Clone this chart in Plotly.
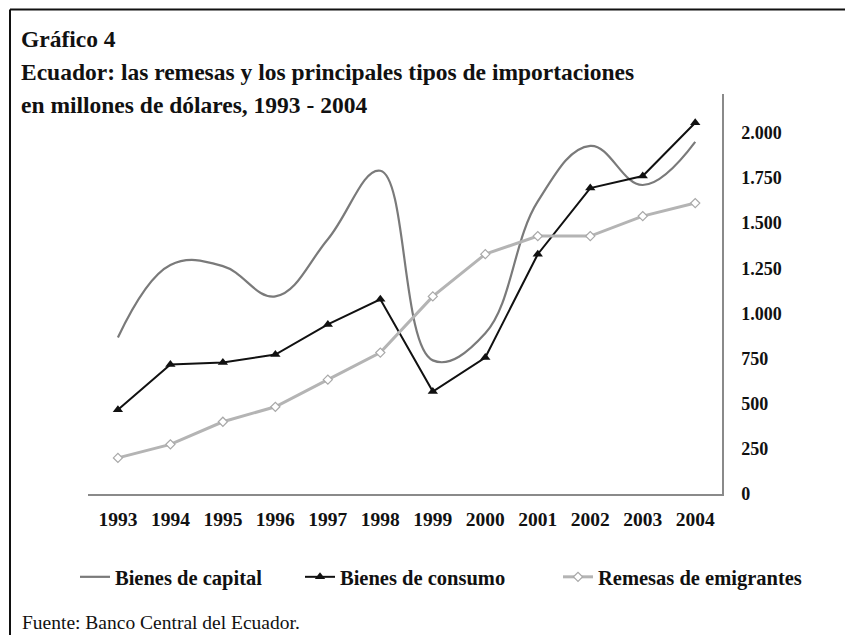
import plotly.graph_objects as go

# ---- data ----
years = [1993, 1994, 1995, 1996, 1997, 1998, 1999, 2000, 2001, 2002, 2003, 2004]
bienes_capital = [867, 1268, 1262, 1094, 1411, 1790, 740, 890, 1620, 1928, 1711, 1950]
bienes_consumo = [467, 717, 728, 772, 939, 1078, 567, 756, 1328, 1694, 1761, 2056]
remesas = [200, 275, 400, 483, 633, 783, 1094, 1328, 1428, 1428, 1539, 1611]
y_ticks = [0, 250, 500, 750, 1000, 1250, 1500, 1750, 2000]
series_names = ["Bienes de capital", "Bienes de consumo", "Remesas de emigrantes"]
title_lines = ["Gráfico 4",
               "Ecuador: las remesas y los principales tipos de importaciones",
               "en millones de dólares, 1993 - 2004"]
source_text = "Fuente: Banco Central del Ecuador."

# ---- layout geometry (pixels, in window coordinates) ----
W, H = 853, 643
OFF = 8            # default page body margin (all sides)
PL, PR, PT, PB = 88, 722, 94, 494
FW, FH = W - 2 * OFF, H - 2 * OFF   # figure size that fits without scrollbars


def px(x):
    return (x - PL) / (PR - PL)


def py(y):
    return (PB - y) / (PB - PT)


SERIF = "Liberation Serif"

fig = go.Figure()
fig.add_trace(go.Scatter(
    x=years, y=bienes_capital, name=series_names[0], mode="lines",
    line=dict(color="#7a7a7a", width=2.2, shape="spline", smoothing=1.15),
    legend="legend"))
fig.add_trace(go.Scatter(
    x=years, y=bienes_consumo, name=series_names[1], mode="lines+markers",
    line=dict(color="#111111", width=2),
    marker=dict(symbol="triangle-up", size=9, color="#111111"),
    legend="legend2"))
fig.add_trace(go.Scatter(
    x=years, y=remesas, name=series_names[2], mode="lines+markers",
    line=dict(color="#b4b4b4", width=3),
    marker=dict(symbol="diamond", size=7, color="white",
                line=dict(color="#a8a8a8", width=1.2)),
    legend="legend3"))

leg_common = dict(orientation="h", yanchor="middle", xanchor="left",
                  bgcolor="rgba(0,0,0,0)", borderwidth=0,
                  font=dict(family=SERIF, size=20.5, color="#111", weight="bold"))

annotations = []
for txt, yy in zip(title_lines, [39, 72, 105]):
    annotations.append(dict(text=txt, xref="paper", yref="paper",
                            x=px(19), y=py(yy), xanchor="left", yanchor="middle",
                            showarrow=False,
                            font=dict(family=SERIF, size=23.5, color="#111", weight="bold")))
annotations.append(dict(text=source_text, xref="paper", yref="paper",
                        x=px(20), y=py(622), xanchor="left", yanchor="middle",
                        showarrow=False,
                        font=dict(family=SERIF, size=19.5, color="#111")))

frame_line = dict(color="#111", width=2)
fig.update_layout(
    width=FW, height=FH,
    margin=dict(l=PL - OFF, r=W - OFF - PR, t=PT - OFF, b=H - OFF - PB),
    paper_bgcolor="white", plot_bgcolor="white",
    separators=",.",
    showlegend=True,
    legend=dict(x=px(75), y=py(577), **leg_common),
    legend2=dict(x=px(300), y=py(577), **leg_common),
    legend3=dict(x=px(558), y=py(577), **leg_common),
    annotations=annotations,
    shapes=[
        dict(type="line", xref="paper", yref="paper",
             x0=px(10), x1=px(W + 20), y0=py(9.5), y1=py(9.5), line=frame_line),
        dict(type="line", xref="paper", yref="paper",
             x0=px(10), x1=px(10), y0=py(9.5), y1=py(H + 20), line=frame_line),
    ],
)
fig.update_xaxes(
    range=[1992.43, 2004.51], tickmode="array", tickvals=years,
    ticktext=[str(y) for y in years], showgrid=False, zeroline=False,
    showline=True, linecolor="#8a8a8a", linewidth=1.5, ticks="",
    ticklabelstandoff=7,
    tickfont=dict(family=SERIF, size=19.5, color="#111", weight="bold"))
fig.update_yaxes(
    side="right", range=[0, 2215], tickmode="array", tickvals=y_ticks,
    tickformat=",d", showgrid=False, zeroline=False,
    showline=True, linecolor="#8a8a8a", linewidth=1.5, ticks="",
    ticklabelstandoff=14,
    tickfont=dict(family=SERIF, size=18, color="#111", weight="bold"))

fig.write_html("out.html")
